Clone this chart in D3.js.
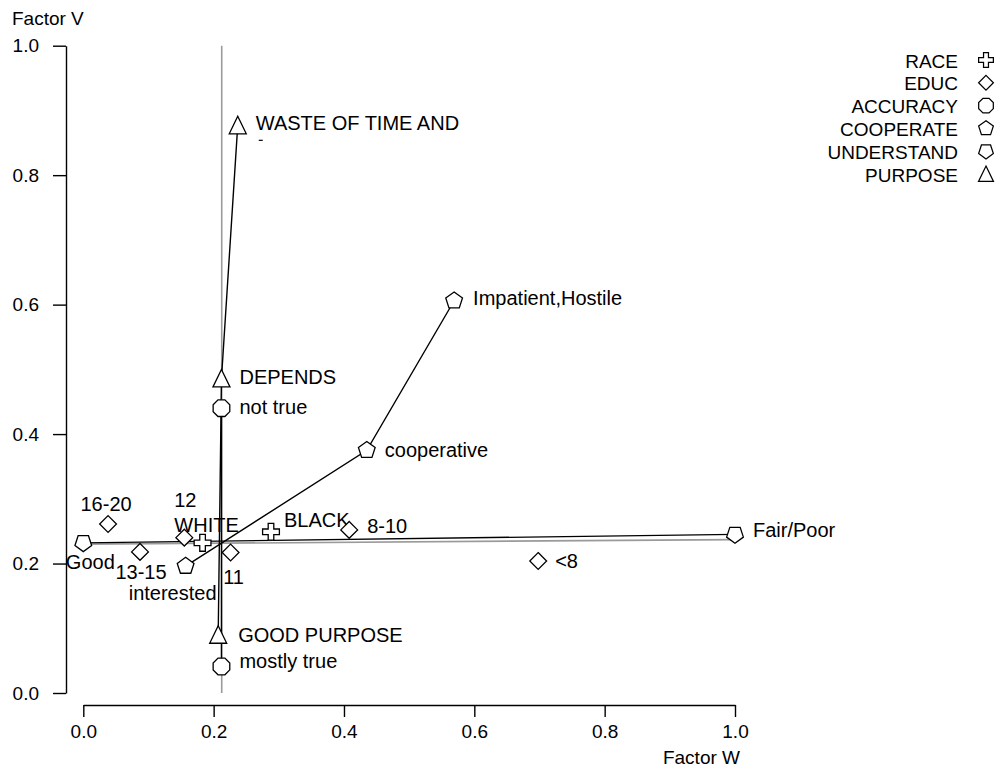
<!DOCTYPE html>
<html>
<head>
<meta charset="utf-8">
<script src="https://cdn.jsdelivr.net/npm/d3@7"></script>
<style>
  body { margin: 0; background: #fff; }
  svg { display: block; font-family: "Liberation Sans", Arial, sans-serif; }
  text { font-size: 19px; fill: #000; }
  text.pt { font-size: 20px; }
</style>
</head>
<body>
<svg width="1005" height="774"></svg>
<script>
'use strict'

// category quantifications, Factor W (x) and Factor V (y)
var variables = ["RACE", "EDUC", "ACCURACY", "COOPERATE", "UNDERSTAND", "PURPOSE"];

var raceCats = ["WHITE", "BLACK"];
var raceW = [0.183, 0.288];
var raceV = [0.232, 0.249];

var educCats = ["<8", "8-10", "11", "12", "13-15", "16-20"];
var educW = [0.698, 0.408, 0.226, 0.155, 0.087, 0.038];
var educV = [0.204, 0.252, 0.217, 0.240, 0.218, 0.261];

var accuracyCats = ["not true", "mostly true"];
var accuracyW = [0.212, 0.212];
var accuracyV = [0.440, 0.041];

var cooperateCats = ["interested", "cooperative", "Impatient,Hostile"];
var cooperateW = [0.157, 0.435, 0.569];
var cooperateV = [0.196, 0.375, 0.606];

var understandCats = ["Good", "Fair/Poor"];
var understandW = [0.0, 1.0];
var understandV = [0.232, 0.245];

var purposeCats = ["GOOD PURPOSE", "DEPENDS", "WASTE OF TIME AND"];
var purposeW = [0.207, 0.212, 0.237];
var purposeV = [0.090, 0.486, 0.877];

// grey reference lines
var refVertW = [0.2124, 0.2124];
var refVertV = [0.0, 1.0];
var refHorW = [0.0, 1.0];
var refHorV = [0.230, 0.237];

var tickValues = [0.0, 0.2, 0.4, 0.6, 0.8, 1.0];

var svg = d3.select("svg");

var x = d3.scaleLinear().domain([0, 1]).range([83.3, 735]),
  y = d3.scaleLinear().domain([0, 1]).range([693, 45.7]);

function zip(cats, w, v) {
  return cats.map(function(c, i) {
    return { label: c, w: w[i], v: v[i] };
  });
}

var series = [
  { name: "RACE", shape: "plus", connect: false, pts: zip(raceCats, raceW, raceV) },
  { name: "EDUC", shape: "diamond", connect: false, pts: zip(educCats, educW, educV) },
  { name: "ACCURACY", shape: "octagon", connect: true, pts: zip(accuracyCats, accuracyW, accuracyV) },
  { name: "COOPERATE", shape: "pentUp", connect: true, pts: zip(cooperateCats, cooperateW, cooperateV) },
  { name: "UNDERSTAND", shape: "pentDown", connect: true, pts: zip(understandCats, understandW, understandV) },
  { name: "PURPOSE", shape: "triangle", connect: true, pts: zip(purposeCats, purposeW, purposeV) }
];

// where each point label sits relative to its marker
var labelPlace = {
  "WASTE OF TIME AND": ["start", 18, -2],
  "DEPENDS": ["start", 18, -1],
  "not true": ["start", 18, -1],
  "GOOD PURPOSE": ["start", 20, 0],
  "mostly true": ["start", 18, -5],
  "Impatient,Hostile": ["start", 19, -3],
  "cooperative": ["start", 18, 0],
  "Fair/Poor": ["start", 18, -4],
  "BLACK": ["start", 13, -12],
  "8-10": ["start", 18, -4],
  "<8": ["start", 17, 0],
  "16-20": ["middle", -2, -20],
  "12": ["middle", 1, -38],
  "WHITE": ["middle", 4, -18],
  "Good": ["middle", 7, 19],
  "13-15": ["middle", 1, 20],
  "11": ["middle", 3, 24],
  "interested": ["middle", -13, 27]
};

function poly(n, r, start) {
  var pts = [];
  for (var i = 0; i < n; i++) {
    var a = (start + i * 360 / n) * Math.PI / 180;
    pts.push([r * Math.cos(a), r * Math.sin(a)]);
  }
  return pts;
}

function shapePath(type) {
  var pts, r = 8.4;
  if (type == "plus") {
    var a = r / 3;
    pts = [[-a, -r], [a, -r], [a, -a], [r, -a], [r, a], [a, a], [a, r], [-a, r], [-a, a], [-r, a], [-r, -a], [-a, -a]];
  } else if (type == "diamond") {
    pts = [[0, -r], [r, 0], [0, r], [-r, 0]];
  } else if (type == "octagon") {
    pts = poly(8, 9, 22.5);
  } else if (type == "pentUp") {
    pts = poly(5, 8.8, -90);
  } else if (type == "pentDown") {
    pts = poly(5, 8.8, 90);
  } else {
    pts = [[0, -9], [8.5, 8.5], [-8.5, 8.5]];
  }
  return d3.line()(pts) + "Z";
}

// grey reference lines
var line = d3.line()
  .x(function(d) { return x(d[0]); })
  .y(function(d) { return y(d[1]); });

svg.append("path")
  .attr("d", line(d3.zip(refVertW, refVertV)))
  .attr("fill", "none")
  .attr("stroke", "#9a9a9a")
  .attr("stroke-width", 1.6);

svg.append("path")
  .attr("d", line(d3.zip(refHorW, refHorV)))
  .attr("fill", "none")
  .attr("stroke", "#9a9a9a")
  .attr("stroke-width", 1.6);

// connecting lines for ordinal variables
svg.selectAll(".conn")
  .data(series.filter(function(s) { return s.connect; }))
  .enter()
  .append("path")
  .attr("class", "conn")
  .attr("d", function(s) {
    return line(s.pts.map(function(p) { return [p.w, p.v]; }));
  })
  .attr("fill", "none")
  .attr("stroke", "#000")
  .attr("stroke-width", 1.4);

// markers
series.forEach(function(s) {
  svg.selectAll(".m-" + s.name)
    .data(s.pts)
    .enter()
    .append("path")
    .attr("class", "m-" + s.name)
    .attr("transform", function(d) {
      return "translate(" + x(d.w) + "," + y(d.v) + ")";
    })
    .attr("d", shapePath(s.shape))
    .attr("fill", "#fff")
    .attr("stroke", "#000")
    .attr("stroke-width", 1.3);

  svg.selectAll(".l-" + s.name)
    .data(s.pts)
    .enter()
    .append("text")
    .attr("class", "pt l-" + s.name)
    .attr("text-anchor", function(d) { return labelPlace[d.label][0]; })
    .attr("x", function(d) { return x(d.w) + labelPlace[d.label][1]; })
    .attr("y", function(d) { return y(d.v) + labelPlace[d.label][2]; })
    .attr("dy", "0.35em")
    .text(function(d) { return d.label; });
});

// clipped remnant of the second line of the long PURPOSE label
svg.append("line")
  .attr("x1", x(0.237) + 21)
  .attr("x2", x(0.237) + 25)
  .attr("y1", y(0.877) + 15)
  .attr("y2", y(0.877) + 15)
  .attr("stroke", "#000")
  .attr("stroke-width", 1.2);

// axes
var yAxis = d3.axisLeft(y)
  .tickValues(tickValues)
  .tickFormat(d3.format(".1f"))
  .tickSize(13)
  .tickSizeOuter(0)
  .tickPadding(14);

var xAxis = d3.axisBottom(x)
  .tickValues(tickValues)
  .tickFormat(d3.format(".1f"))
  .tickSize(12)
  .tickSizeOuter(0)
  .tickPadding(8);

var gy = svg.append("g")
  .attr("transform", "translate(66,0)")
  .call(yAxis);

var gx = svg.append("g")
  .attr("transform", "translate(0,705)")
  .call(xAxis);

[gx, gy].forEach(function(g) {
  g.attr("font-size", null).attr("font-family", null);
  g.selectAll("path, line").attr("stroke", "#000").attr("stroke-width", 1.4);
  g.selectAll("text").style("font-size", "19px").attr("fill", "#000");
});

svg.append("text")
  .attr("x", 12)
  .attr("y", 18)
  .attr("dy", "0.35em")
  .text("Factor V");

svg.append("text")
  .attr("x", 740)
  .attr("y", 757)
  .attr("dy", "0.35em")
  .attr("text-anchor", "end")
  .text("Factor W");

// legend
var legend = svg.append("g");

var items = legend.selectAll(".item")
  .data(series)
  .enter()
  .append("g")
  .attr("class", "item")
  .attr("transform", function(d, i) {
    return "translate(0," + (61 + i * 22.8) + ")";
  });

items.append("text")
  .attr("x", 958)
  .attr("dy", "0.35em")
  .attr("text-anchor", "end")
  .text(function(d) { return d.name; });

items.append("path")
  .attr("transform", "translate(986,-1) scale(0.88)")
  .attr("d", function(d) { return shapePath(d.shape); })
  .attr("fill", "#fff")
  .attr("stroke", "#000")
  .attr("stroke-width", 1.4);
</script>
</body>
</html>
